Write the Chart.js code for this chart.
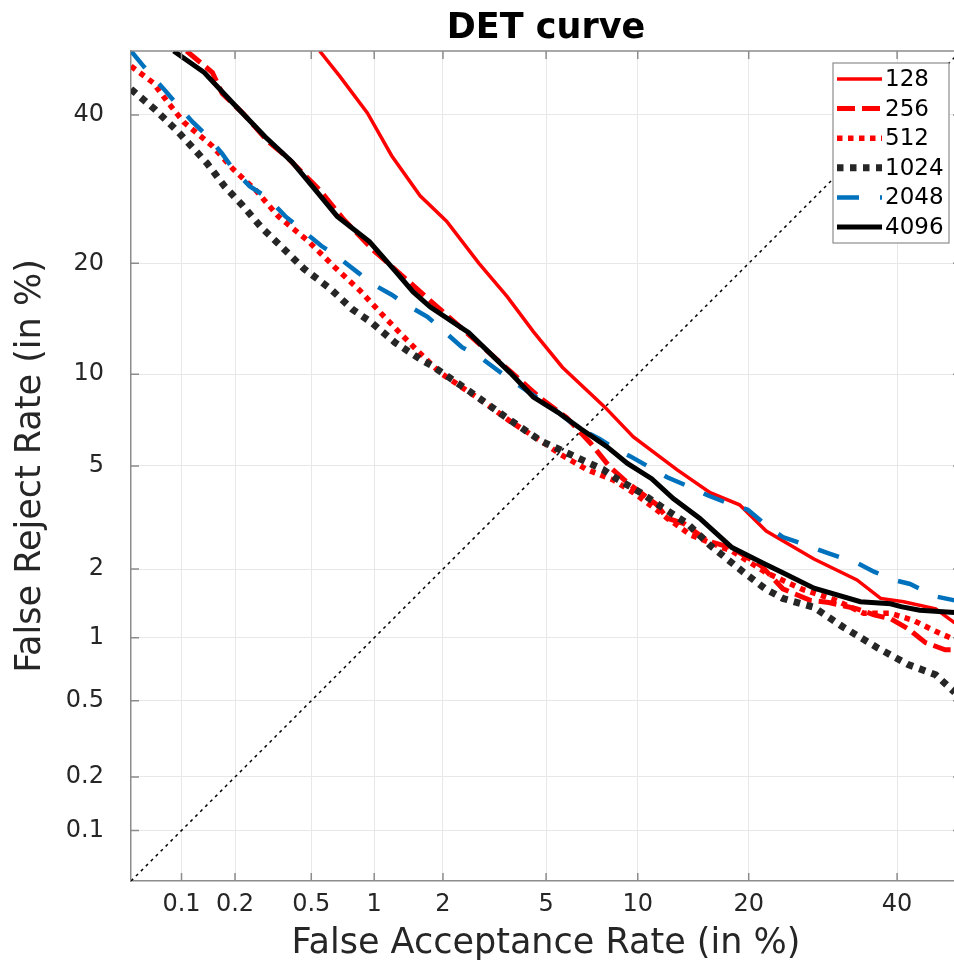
<!DOCTYPE html>
<html>
<head>
<meta charset="utf-8">
<title>DET curve</title>
<script src="https://cdn.jsdelivr.net/npm/chart.js@4.4.0/dist/chart.umd.min.js"></script>
<style>
  html, body { margin: 0; padding: 0; background: #fff; overflow: hidden; }
  #wrap { width: 972px; height: 965px; }
</style>
</head>
<body>
<div id="wrap"><canvas id="det"></canvas></div>
<script>
// error rates in percent, read per embedding size
const far128 = [0.55, 0.69, 0.93, 1.2, 1.6, 2.07, 2.8, 3.6, 4.5, 5.7, 7.9, 9.7, 13, 16, 19, 22, 28, 34, 37.5, 41, 46, 49];
const frr128 = [50, 46, 40.3, 33.9, 28.3, 25, 20, 16.5, 13.3, 10.5, 7.9, 6.3, 4.85, 4.0, 3.6, 2.85, 2.2, 1.8, 1.5, 1.45, 1.35, 1.17];

const far256 = [0.107, 0.15, 0.17, 0.22, 0.3, 0.37, 0.55, 0.72, 0.99, 1.3, 1.6, 2.8, 3.7, 4.8, 5.9, 7.1, 8.2, 9.3, 11.4, 12.2, 13.6, 15.8, 18.2, 21.5, 24, 27.5, 30, 34, 36.5, 39, 41.7, 44.4, 47.5, 49];
const frr256 = [50, 46.6, 43.3, 40.3, 36, 33.9, 29.1, 25.2, 21.5, 18.9, 17, 12.3, 10.2, 8.4, 7.3, 6.0, 4.95, 4.35, 3.6, 3.2, 3.05, 2.6, 2.44, 2.05, 1.65, 1.47, 1.44, 1.35, 1.27, 1.22, 1.1, 0.95, 0.88, 0.88];

const far512 = [0.05, 0.068, 0.084, 0.103, 0.15, 0.195, 0.26, 0.34, 0.48, 0.65, 0.86, 1.1, 1.4, 1.65, 1.95, 2.8, 3.7, 4.8, 5.6, 6.9, 8.4, 9.7, 11.2, 12.2, 14.2, 17.2, 18.2, 22, 26.5, 31, 35, 39, 42.5, 46, 49];
const frr512 = [47.6, 45, 41.8, 38.9, 35.3, 32, 29, 25.6, 22.6, 19.6, 17.1, 14.7, 12.6, 11.3, 10.1, 8.4, 7.1, 6.1, 5.5, 4.85, 4.45, 4.0, 3.5, 3.2, 2.75, 2.45, 2.37, 1.93, 1.64, 1.47, 1.29, 1.29, 1.2, 1.07, 0.98];

const far1024 = [0.05, 0.07, 0.095, 0.14, 0.175, 0.22, 0.28, 0.36, 0.46, 0.62, 0.79, 0.97, 1.24, 1.6, 1.8, 2.55, 3.5, 4.8, 6.4, 7.8, 8.6, 10.2, 11.9, 13.9, 16, 18, 19.5, 22, 24, 28, 32, 37, 41.7, 46, 49];
const frr1024 = [44, 40.8, 37.5, 32.8, 29.6, 27, 24.1, 21.7, 19.4, 17.3, 15.3, 14.1, 12.4, 11.1, 10.6, 8.9, 7.4, 6.1, 5.35, 4.85, 4.5, 4.0, 3.5, 3.05, 2.5, 2.15, 1.93, 1.64, 1.5, 1.37, 1.12, 0.9, 0.75, 0.67, 0.55];

const far2048 = [0.05, 0.06, 0.08, 0.09, 0.115, 0.14, 0.17, 0.195, 0.24, 0.3, 0.37, 0.44, 0.56, 0.65, 0.85, 0.96, 1.2, 1.4, 1.72, 2.4, 2.8, 3.3, 3.8, 4.7, 5.5, 6.4, 7.6, 8.4, 9.5, 11, 12.2, 14.1, 15.8, 18.2, 19.9, 22, 24, 28, 30, 34, 36.5, 39.5, 42, 46, 49];
const frr2048 = [50, 47.5, 43.8, 42.2, 39, 36.8, 34.2, 32, 29.6, 28, 25.6, 24.1, 22, 21, 18.9, 17.9, 16.7, 15.7, 14.6, 12, 11.3, 10.3, 9.5, 8.4, 7.6, 6.8, 6.2, 5.8, 5.4, 4.9, 4.55, 4.2, 3.9, 3.6, 3.45, 3.0, 2.7, 2.44, 2.32, 2.12, 1.95, 1.8, 1.73, 1.53, 1.47];

const far4096 = [0.09, 0.135, 0.195, 0.29, 0.4, 0.52, 0.67, 0.95, 1.24, 1.49, 1.77, 2.55, 3.3, 3.7, 4.5, 5.5, 6.6, 8.0, 9.3, 11, 12.7, 15, 18.2, 21.6, 24, 28, 34.5, 39, 40.6, 43.5, 49];
const frr4096 = [50, 46.6, 41.8, 36.7, 33, 29.2, 25.6, 22.5, 19.2, 17, 15.5, 13.2, 11, 10.1, 8.5, 7.6, 6.7, 5.85, 5.1, 4.5, 3.8, 3.2, 2.45, 2.12, 1.93, 1.66, 1.45, 1.42, 1.38, 1.33, 1.3];

// equal error diagonal
const farDiag = [0.05, 50];
const frrDiag = [0.05, 50];

const tickValues = [0.1, 0.2, 0.5, 1, 2, 5, 10, 20, 40];
const tickLabels = ['0.1', '0.2', '0.5', '1', '2', '5', '10', '20', '40'];
const axisLow = 0.05;
const axisHigh = 50;

const FONT = 'DejaVu Sans';

// inverse normal CDF (Acklam), used for the normal deviate axes
const probit = (p) => {
    const a = [-39.69683028665376, 220.9460984245205, -275.9285104469687, 138.3577518672690, -30.66479806614716, 2.506628277459239];
    const b = [-54.47609879822406, 161.5858368580409, -155.6989798598866, 66.80131188771972, -13.28068155288572];
    const c = [-0.007784894002430293, -0.3223964580411365, -2.400758277161838, -2.549732539343734, 4.374664141464968, 2.938163982698783];
    const d = [0.007784695709041462, 0.3224671290700398, 2.445134137142996, 3.754408661907416];
    const pl = 0.02425;
    let q, r;
    if (p < pl) {
        q = Math.sqrt(-2 * Math.log(p));
        return (((((c[0] * q + c[1]) * q + c[2]) * q + c[3]) * q + c[4]) * q + c[5]) /
            ((((d[0] * q + d[1]) * q + d[2]) * q + d[3]) * q + 1);
    }
    if (p <= 1 - pl) {
        q = p - 0.5;
        r = q * q;
        return (((((a[0] * r + a[1]) * r + a[2]) * r + a[3]) * r + a[4]) * r + a[5]) * q /
            (((((b[0] * r + b[1]) * r + b[2]) * r + b[3]) * r + b[4]) * r + 1);
    }
    q = Math.sqrt(-2 * Math.log(1 - p));
    return -(((((c[0] * q + c[1]) * q + c[2]) * q + c[3]) * q + c[4]) * q + c[5]) /
        ((((d[0] * q + d[1]) * q + d[2]) * q + d[3]) * q + 1);
};

const toPoints = (far, frr) => far.map((v, i) => ({ x: probit(v / 100), y: probit(frr[i] / 100) }));

const series = [
    { label: '128', far: far128, frr: frr128, color: '#ff0000', width: 3.5, dash: [] },
    { label: '256', far: far256, frr: frr256, color: '#ff0000', width: 5, dash: [18, 7] },
    { label: '512', far: far512, frr: frr512, color: '#ff0000', width: 5.5, dash: [5.5, 5.5] },
    { label: '1024', far: far1024, frr: frr1024, color: '#262626', width: 7, dash: [6.5, 6.5] },
    { label: '2048', far: far2048, frr: frr2048, color: '#0072bd', width: 4.5, dash: [22, 21] },
    { label: '4096', far: far4096, frr: frr4096, color: '#000000', width: 5, dash: [] }
];

const datasets = series.map((s, i) => ({
    label: s.label,
    data: toPoints(s.far, s.frr),
    borderColor: s.color,
    borderWidth: s.width,
    borderDash: s.dash,
    borderCapStyle: 'butt',
    pointRadius: 0,
    tension: 0,
    clip: 0,
    order: series.length - i
}));

datasets.push({
    label: 'diag',
    data: toPoints(farDiag, frrDiag),
    borderColor: '#000',
    borderWidth: 1.5,
    borderDash: [3, 4],
    pointRadius: 0,
    clip: 0,
    order: 10
});

// box, inward tick marks, title and boxed legend
const framePlugin = {
    id: 'frame',
    afterDraw(chart) {
        const ctx = chart.ctx;
        const area = chart.chartArea;
        const xs = chart.scales.x;
        const ys = chart.scales.y;
        ctx.save();

        ctx.strokeStyle = '#8c8c8c';
        ctx.lineWidth = 1.5;
        ctx.beginPath();
        ctx.moveTo(area.left, area.top);
        ctx.lineTo(area.right, area.top);
        ctx.lineTo(area.right, area.bottom);
        tickValues.forEach(v => {
            const px = xs.getPixelForValue(probit(v / 100));
            ctx.moveTo(px, area.bottom);
            ctx.lineTo(px, area.bottom - 8);
            ctx.moveTo(px, area.top);
            ctx.lineTo(px, area.top + 8);
            const py = ys.getPixelForValue(probit(v / 100));
            ctx.moveTo(area.left, py);
            ctx.lineTo(area.left + 8, py);
            ctx.moveTo(area.right, py);
            ctx.lineTo(area.right - 8, py);
        });
        ctx.stroke();

        ctx.fillStyle = '#000';
        ctx.font = 'bold 35px "' + FONT + '"';
        ctx.textAlign = 'center';
        ctx.textBaseline = 'alphabetic';
        ctx.fillText('DET curve', (area.left + area.right) / 2, 38);

        const lx = area.right - 128;
        const ly = area.top + 12;
        const lw = 116;
        const lh = 180;
        ctx.fillStyle = '#fff';
        ctx.fillRect(lx, ly, lw, lh);
        ctx.strokeStyle = '#8c8c8c';
        ctx.lineWidth = 1.2;
        ctx.setLineDash([]);
        ctx.strokeRect(lx, ly, lw, lh);

        ctx.font = '23px "' + FONT + '"';
        ctx.textAlign = 'left';
        ctx.textBaseline = 'middle';
        series.forEach((s, i) => {
            const y = ly + 16 + i * 29.6;
            ctx.strokeStyle = s.color;
            ctx.lineWidth = s.width;
            ctx.lineCap = 'butt';
            ctx.setLineDash(s.dash);
            ctx.beginPath();
            ctx.moveTo(lx + 4, y);
            ctx.lineTo(lx + 49, y);
            ctx.stroke();
            ctx.setLineDash([]);
            ctx.fillStyle = '#000';
            ctx.fillText(s.label, lx + 52, y + 1);
        });
        ctx.restore();
    }
};

const axisOptions = (titleText, isX) => ({
    type: 'linear',
    min: probit(axisLow / 100),
    max: probit(axisHigh / 100),
    afterBuildTicks: (scale) => {
        scale.ticks = tickValues.map(v => ({ value: probit(v / 100) }));
    },
    afterFit: (scale) => {
        if (isX) {
            scale.height = 84;
        } else {
            scale.width = 131;
        }
    },
    grid: { color: '#e8e8e8', lineWidth: 1, drawTicks: false },
    border: { color: '#8c8c8c', width: 1.5 },
    ticks: {
        callback: (value, index) => tickLabels[index],
        font: { family: FONT, size: 24 },
        color: '#262626',
        padding: isX ? 9 : 27,
        autoSkip: false,
        maxRotation: 0
    },
    title: {
        display: true,
        text: titleText,
        font: { family: FONT, size: 35 },
        color: '#262626',
        padding: isX ? { top: 0, bottom: 0 } : { top: 10, bottom: 0 }
    }
});

const init = () => {
    new Chart(document.getElementById('det'), {
        type: 'line',
        data: { datasets: datasets },
        options: {
            responsive: true,
            maintainAspectRatio: false,
            devicePixelRatio: 1,
            animation: false,
            parsing: false,
            layout: { padding: { top: 51, right: 11, left: 0, bottom: 0 } },
            plugins: {
                legend: { display: false },
                tooltip: { enabled: false },
                title: { display: false }
            },
            scales: {
                x: axisOptions('False Acceptance Rate (in %)', true),
                y: axisOptions('False Reject Rate (in %)', false)
            }
        },
        plugins: [framePlugin]
    });
};

document.addEventListener('DOMContentLoaded', init);
</script>
</body>
</html>
